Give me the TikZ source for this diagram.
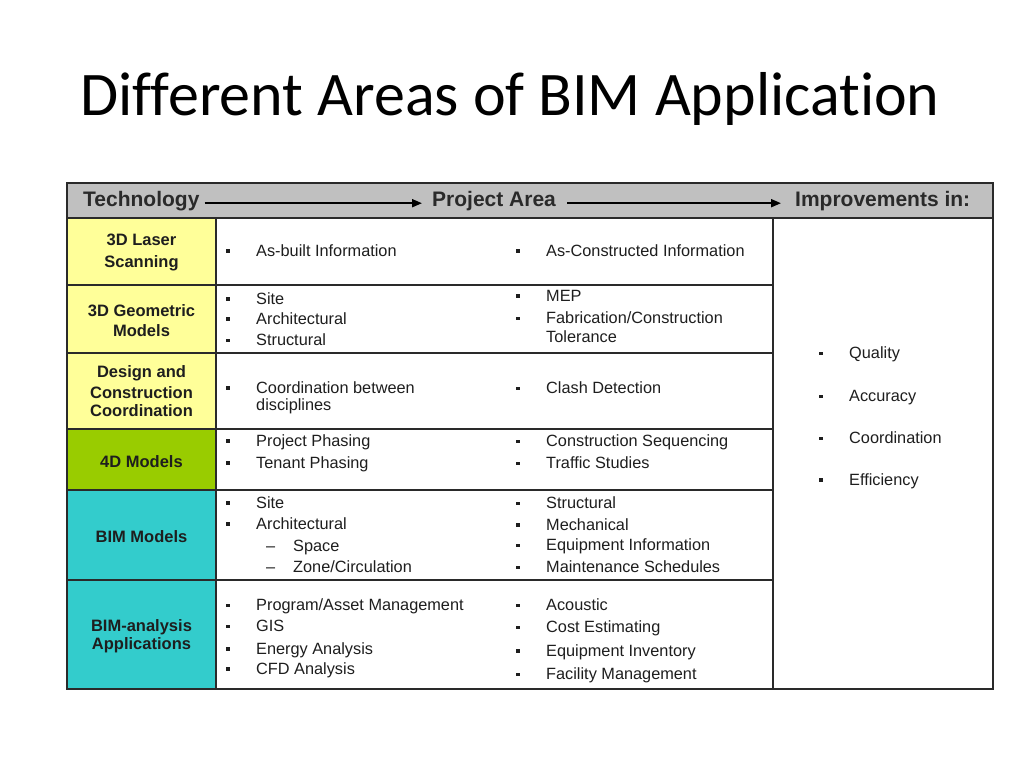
\documentclass[tikz,border=0pt]{standalone}
\usepackage{fontspec}
\setmainfont{Liberation Sans}
\newfontfamily\titlefont[Ligatures={NoCommon}]{Carlito}
\usetikzlibrary{arrows.meta}
\definecolor{hdrgray}{HTML}{C0C0C0}
\definecolor{lyellow}{HTML}{FFFF99}
\definecolor{lgreen}{HTML}{99CC00}
\definecolor{tealc}{HTML}{33CCCC}
\definecolor{txt}{HTML}{1E1E1E}
\definecolor{rulec}{HTML}{2A2A2A}
\newcommand\bitem[4]{%
  \node[bul] (#1b) at ({#2-28},{#3-5}) {};
  \node[itm] (#1) at (#2,#3) {#4};}
\newcommand\ditem[4]{%
  \node[itm] (#1b) at ({#2-27},#3) {–};
  \node[itm] (#1) at (#2,#3) {#4};}
\begin{document}
\begin{tikzpicture}[x=1pt,y=-1pt,
  itm/.style={anchor=base west, inner sep=0, font=\fontsize{16.3}{19}\selectfont, text=txt},
  bul/.style={inner sep=0, minimum size=3.2pt, fill=txt, rectangle},
  lbl/.style={anchor=base, inner sep=0, font=\bfseries\fontsize{16.5}{19}\selectfont, text=txt},
  hdr/.style={anchor=base west, inner sep=0, font=\bfseries\fontsize{21}{24}\selectfont, text=rulec},
  gridline/.style={draw=rulec, line width=1.6pt},
  arr/.style={draw=black, line width=1.9pt, -{Triangle[length=10pt,width=8pt]}}]
\useasboundingbox[fill=white] (0,0) rectangle (1024,768);
% title
\node[anchor=base west, inner sep=0, font=\titlefont\fontsize{62}{70}\selectfont] (title) at (80,115) {Different Areas of BIM Application};
% fills
\fill[hdrgray] (67,183) rectangle (993,218);
\fill[lyellow] (67,218) rectangle (216,429);
\fill[lgreen] (67,429) rectangle (216,490);
\fill[tealc] (67,490) rectangle (216,689);
% grid
\draw[gridline] (67,218) -- (993,218);
\foreach \yy in {285,353,429,490,580} \draw[gridline] (67,\yy) -- (773,\yy);
\draw[gridline] (216,218) -- (216,689);
\draw[gridline] (773,218) -- (773,689);
\draw[draw=rulec, line width=2pt] (67,183) rectangle (993,689);
% header
\node[hdr] (tech) at (83,206.7) {Technology};
\node[hdr] (proj) at (432,206.7) {Project Area};
\node[hdr] (impr) at (795,206.7) {Improvements in:};
\draw[arr] ([shift={(5,-3.5)}]tech.base east) -- ([shift={(-10,-3.5)}]proj.base west);
\draw[arr] ([shift={(11,-3.5)}]proj.base east) -- ([shift={(-14,-3.5)}]impr.base west);
% left labels
\node[lbl] (l1a) at (141.5,245.7) {3D Laser};
\node[lbl] (l1b) at (141.5,267) {Scanning};
\node[lbl] (l2a) at (141.5,316) {3D Geometric};
\node[lbl] (l2b) at (141.5,336) {Models};
\node[lbl] (l3a) at (141.5,377.7) {Design and};
\node[lbl] (l3b) at (141.5,398) {Construction};
\node[lbl] (l3c) at (141.5,416.7) {Coordination};
\node[lbl] (l4a) at (141.5,467.7) {4D Models};
\node[lbl] (l5a) at (141.5,542.7) {BIM Models};
\node[lbl] (l6a) at (141.5,631.7) {BIM-analysis};
\node[lbl] (l6b) at (141.5,649) {Applications};
% middle column
\bitem{m1a}{256}{256}{As-built Information}
\bitem{m2a}{256}{304}{Site}
\bitem{m2b}{256}{324}{Architectural}
\bitem{m2c}{256}{345.7}{Structural}
\bitem{m3a}{256}{393}{Coordination between}
\node[itm] (m3b) at (256,410) {disciplines};
\bitem{m4a}{256}{446}{Project Phasing}
\bitem{m4b}{256}{468}{Tenant Phasing}
\bitem{m5a}{256}{508}{Site}
\bitem{m5b}{256}{529}{Architectural}
\ditem{m5c}{293}{551}{Space}
\ditem{m5d}{293}{572}{Zone/Circulation}
\bitem{m6a}{256}{610.7}{Program/Asset Management}
\bitem{m6b}{256}{631.7}{GIS}
\bitem{m6c}{256}{654}{Energy Analysis}
\bitem{m6d}{256}{674}{CFD Analysis}
% right column
\bitem{r1a}{546}{256}{As-Constructed Information}
\bitem{r2a}{546}{301}{MEP}
\bitem{r2b}{546}{323.3}{Fabrication/Construction}
\node[itm] (r2c) at (546,342.3) {Tolerance};
\bitem{r3a}{546}{393.3}{Clash Detection}
\bitem{r4a}{546}{446.7}{Construction Sequencing}
\bitem{r4b}{546}{468.3}{Traffic Studies}
\bitem{r5a}{546}{508.3}{Structural}
\bitem{r5b}{546}{530}{Mechanical}
\bitem{r5c}{546}{550.7}{Equipment Information}
\bitem{r5d}{546}{572.3}{Maintenance Schedules}
\bitem{r6a}{546}{610.7}{Acoustic}
\bitem{r6b}{546}{632.3}{Cost Estimating}
\bitem{r6c}{546}{656}{Equipment Inventory}
\bitem{r6d}{546}{679.3}{Facility Management}
% improvements
\bitem{i1}{849}{358.3}{Quality}
\bitem{i2}{849}{401.7}{Accuracy}
\bitem{i3}{849}{443.3}{Coordination}
\bitem{i4}{849}{485}{Efficiency}
\end{tikzpicture}
\end{document}
